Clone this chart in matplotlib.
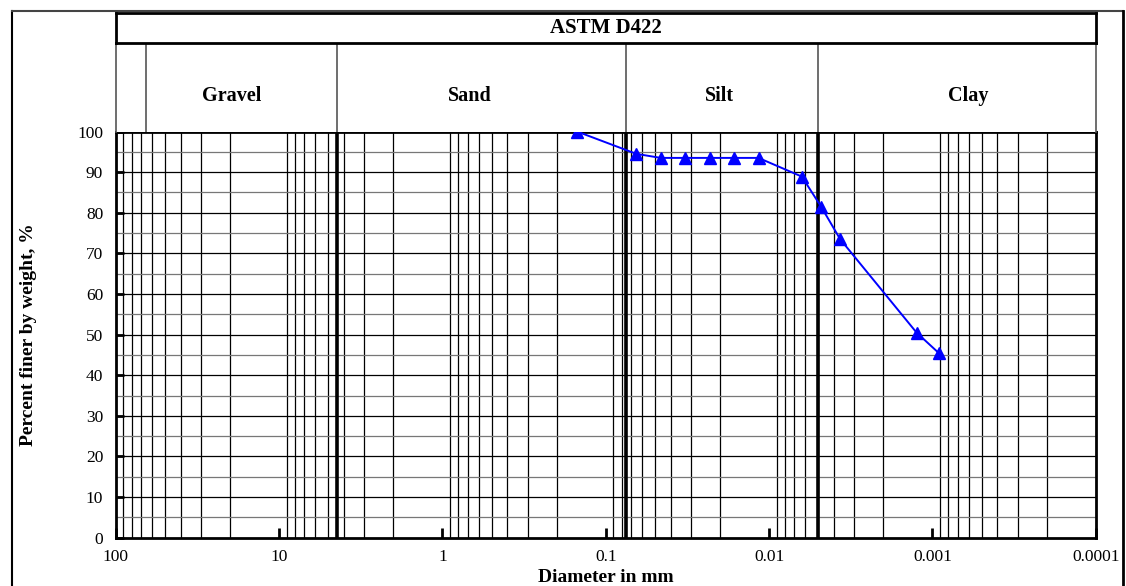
import matplotlib
matplotlib.use("Agg")
import matplotlib.pyplot as plt
from matplotlib.lines import Line2D

# grain size data (hydrometer / sieve)
diameter_mm = [0.15, 0.065, 0.046, 0.0327, 0.023, 0.0164, 0.0116,
               0.0063, 0.0048, 0.00367, 0.00125, 0.00091]
percent_finer = [100, 94.5, 93.5, 93.5, 93.5, 93.5, 93.5,
                 88.9, 81.5, 73.5, 50.5, 45.4]

# soil class boundaries and labels
class_bounds = [65, 4.4, 0.075, 0.005]
class_names = ["Gravel", "Sand", "Silt", "Clay"]
class_label_x = [19.5, 0.68, 0.0202, 0.0006]

x_ticks = [100, 10, 1, 0.1, 0.01, 0.001, 0.0001]
x_tick_labels = ["100", "10", "1", "0.1", "0.01", "0.001", "0.0001"]
y_ticks = list(range(0, 101, 10))

W, H = 1126, 586
SERIF = ["Liberation Serif", "DejaVu Serif"]
plt.rcParams["font.family"] = SERIF


def box(l, t, r, b):
    return [l / W, 1 - b / H, (r - l) / W, (b - t) / H]


fig = plt.figure(figsize=(W / 100, H / 100), dpi=100)

L, R = 115.7, 1095.7
ax = fig.add_axes(box(L, 131.5, R, 537.7))
ax.set_xscale("log")
ax.set_xlim(100, 0.0001)
ax.set_ylim(0, 100)

# minor grid (2..9 of each decade), no decade lines
for n in range(-4, 2):
    for k in range(2, 10):
        ax.axvline(k * 10.0 ** n, color="black", lw=0.9, zorder=1)
for v in range(5, 100, 5):
    c = "black" if v % 10 == 0 else "#777777"
    ax.axhline(v, color=c, lw=0.9, zorder=1)

for b in class_bounds[1:]:
    ax.axvline(b, color="black", lw=2.6, zorder=2)

ax.plot(diameter_mm, percent_finer, color="#0000FF", lw=1.4,
        marker="^", markersize=9, zorder=5, clip_on=False)

ax.set_xticks(x_ticks)
ax.set_xticklabels(x_tick_labels)
ax.xaxis.set_minor_locator(matplotlib.ticker.NullLocator())
ax.set_yticks(y_ticks)
ax.tick_params(axis="x", direction="in", length=7, width=2, pad=8,
               labelsize=12.5)
ax.tick_params(axis="y", direction="in", length=6, width=2, pad=9,
               labelsize=12.5)
for s in ax.spines.values():
    s.set_linewidth(2)

# classification band
hx = fig.add_axes(box(L, 43, R, 131.5))
hx.set_xscale("log")
hx.set_xlim(100, 0.0001)
hx.set_ylim(0, 1)
hx.set_xticks([])
hx.set_yticks([])
hx.xaxis.set_minor_locator(matplotlib.ticker.NullLocator())
for s in hx.spines.values():
    s.set_color("#555555")
    s.set_linewidth(1.2)
hx.spines["bottom"].set_visible(False)
for b in class_bounds:
    hx.axvline(b, color="#555555", lw=1.2)
for xl, name in zip(class_label_x, class_names):
    hx.text(xl, 0.34, name, ha="center", va="baseline",
            fontsize=14.5, fontweight="bold")

# title box
tx = fig.add_axes(box(L, 13, R, 43))
tx.set_xticks([])
tx.set_yticks([])
for s in tx.spines.values():
    s.set_linewidth(2)
tx.text(0.5, 0.5, "ASTM D422", ha="center", va="center",
        fontsize=15, fontweight="bold", transform=tx.transAxes)

fig.text(29 / W, 1 - 335 / H, "Percent finer by weight, %", rotation=90,
         ha="center", va="center", fontsize=14, fontweight="bold")
fig.text(605.7 / W, 1 - 582 / H, "Diameter in mm", ha="center",
         va="baseline", fontsize=14, fontweight="bold")

# outer frame
fx = lambda p: p / W
fy = lambda p: 1 - p / H
fig.add_artist(Line2D([fx(12), fx(12)], [fy(11), 0], color="black", lw=1.5))
fig.add_artist(Line2D([fx(12), fx(1123)], [fy(11), fy(11)], color="#444444", lw=1.5))
fig.add_artist(Line2D([fx(1123), fx(1123)], [fy(11), 0], color="black", lw=2))

fig.savefig("out.png", dpi=100)
